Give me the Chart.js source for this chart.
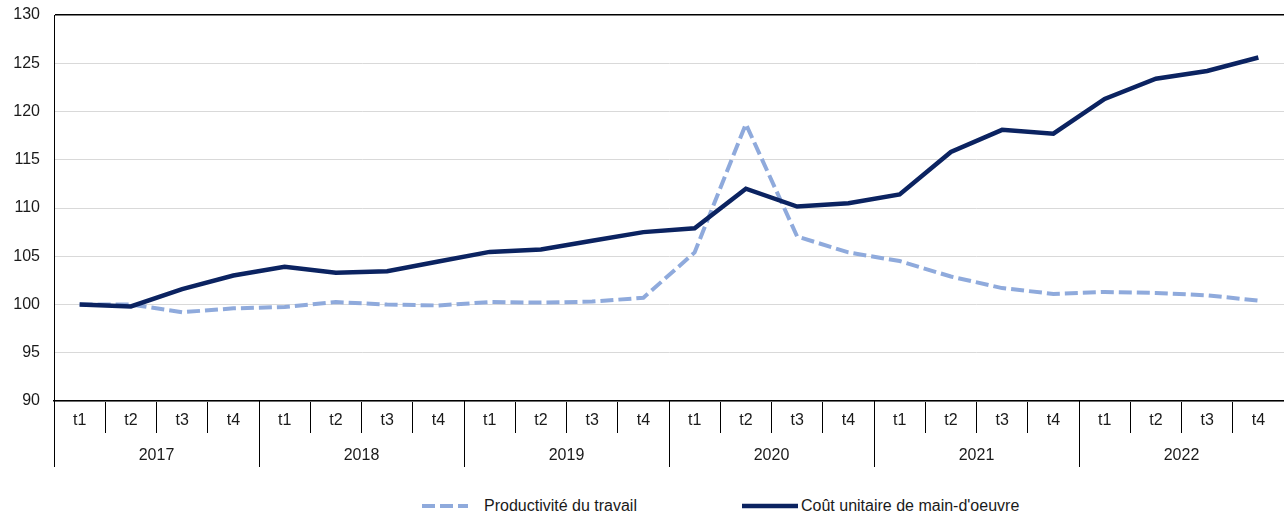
<!DOCTYPE html>
<html>
<head>
<meta charset="utf-8">
<script src="https://cdn.jsdelivr.net/npm/chart.js@4.4.0/dist/chart.umd.min.js"></script>
<style>
  body { margin: 0; background: #fff; font-family: 'Liberation Sans', Arial, sans-serif; }
  #wrap { position: relative; width: 1284px; height: 514px; }
  #plot { position: absolute; left: 0; top: 0; width: 1284px; height: 490px; }
  .key { position: absolute; top: 496px; height: 20px; font-size: 16px; color: #1a1a1a; line-height: 20px; white-space: nowrap; }
  .key svg { position: absolute; top: 7px; left: 0; }
</style>
</head>
<body>
<div id="wrap">
  <div id="plot"><canvas id="chart"></canvas></div>
  <div class="key" style="left:422px">
    <svg width="46" height="6"><line x1="0" y1="3" x2="46" y2="3" stroke="#8faadc" stroke-width="4" stroke-dasharray="13 5"/></svg>
    <span style="margin-left:62px">Productivité du travail</span>
  </div>
  <div class="key" style="left:742px">
    <svg width="56" height="6"><line x1="0" y1="3" x2="56" y2="3" stroke="#0b2361" stroke-width="4.5" stroke-linecap="round"/></svg>
    <span style="margin-left:59px">Coût unitaire de main-d'oeuvre</span>
  </div>
</div>
<script>
// index 2017 t1 = 100
const years    = ['2017', '2018', '2019', '2020', '2021', '2022'];
const quarters = ['t1', 't2', 't3', 't4'];
const yTicks   = [90, 95, 100, 105, 110, 115, 120, 125, 130];

const productivite = [100.0, 100.0, 99.2, 99.6, 99.75, 100.25, 100.0, 99.9,
                      100.25, 100.2, 100.3, 100.7, 105.4, 118.7, 107.05, 105.4,
                      104.5, 102.9, 101.7, 101.1, 101.3, 101.2, 100.95, 100.4];
const coutUnitaire = [100.0, 99.8, 101.6, 103.0, 103.9, 103.3, 103.45, 104.45,
                      105.45, 105.7, 106.6, 107.5, 107.9, 112.0, 110.15, 110.5,
                      111.4, 115.8, 118.1, 117.7, 121.3, 123.4, 124.2, 125.6];

const labels = years.flatMap(() => quarters);

const FONT = "'Liberation Sans', Arial, sans-serif";
Chart.defaults.font.family = FONT;
Chart.defaults.font.size = 16;
Chart.defaults.color = '#1a1a1a';

// second label row: year names + long separators between years
const yearRow = {
  id: 'yearRow',
  afterDraw(chart) {
    const x = chart.scales.x, ctx = chart.ctx;
    const step = x.getPixelForValue(1) - x.getPixelForValue(0);
    const top = x.top;
    ctx.save();
    ctx.strokeStyle = '#000';
    ctx.lineWidth = 1;
    ctx.fillStyle = '#1a1a1a';
    ctx.font = `16px ${FONT}`;
    ctx.textAlign = 'center';
    ctx.textBaseline = 'middle';
    years.forEach((yr, i) => {
      const left = Math.round(x.getPixelForValue(i * 4) - step / 2) + 0.5;
      ctx.beginPath();
      ctx.moveTo(left, top);
      ctx.lineTo(left, top + 66);
      ctx.stroke();
      const mid = (x.getPixelForValue(i * 4 + 1) + x.getPixelForValue(i * 4 + 2)) / 2;
      ctx.fillText(yr, mid, top + 55);
    });
    ctx.restore();
  }
};

new Chart(document.getElementById('chart'), {
  type: 'line',
  data: {
    labels,
    datasets: [
      {
        label: 'Productivité du travail',
        data: productivite,
        borderColor: '#8faadc',
        borderWidth: 4,
        borderDash: [13, 5],
        pointRadius: 0,
        tension: 0,
        order: 1
      },
      {
        label: "Coût unitaire de main-d'oeuvre",
        data: coutUnitaire,
        borderColor: '#0b2361',
        borderWidth: 4.5,
        pointRadius: 0,
        tension: 0,
        order: 0
      }
    ]
  },
  options: {
    responsive: true,
    maintainAspectRatio: false,
    animation: false,
    layout: { padding: { top: 15, left: 0, right: 0, bottom: 0 } },
    plugins: { legend: { display: false }, tooltip: { enabled: false } },
    scales: {
      x: {
        offset: true,
        grid: { offset: true, drawOnChartArea: false, drawTicks: true, tickLength: 32, color: '#000', lineWidth: 1 },
        border: { color: '#000', width: 1.5 },
        ticks: { autoSkip: false, maxRotation: 0, padding: -22 },
        afterFit: s => { s.height = 89; s.paddingLeft = 0; s.paddingRight = 0; }
      },
      y: {
        min: 90, max: 130,
        afterBuildTicks: s => { s.ticks = yTicks.map(v => ({ value: v })); },
        grid: { drawTicks: false, color: c => c.tick && c.tick.value === 130 ? '#000' : '#d9d9d9', lineWidth: c => c.tick && c.tick.value === 130 ? 1.5 : 1 },
        border: { color: '#000', width: 1 },
        ticks: { padding: 14 },
        afterFit: s => { s.width = 54; s.paddingTop = 0; s.paddingBottom = 0; }
      }
    }
  },
  plugins: [yearRow]
});
</script>
</body>
</html>
